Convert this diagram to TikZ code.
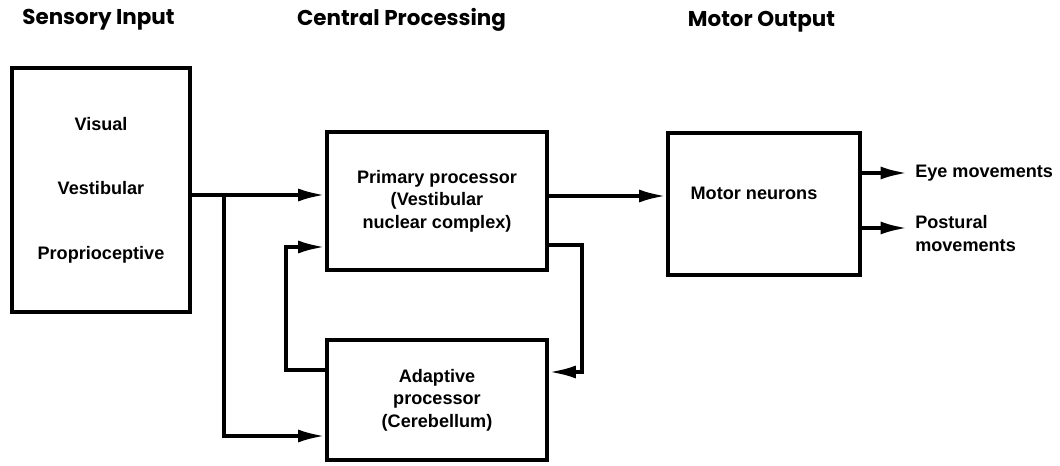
\documentclass[tikz,border=0pt]{standalone}
\usepackage{fontspec}
\setmainfont{Liberation Sans}
\newfontfamily\titulofont{Poppins}
\usetikzlibrary{arrows.meta}

\begin{document}
\begin{tikzpicture}[line width=0.75mm,
  caixa/.style={draw,rectangle,inner sep=0pt},
  texto/.style={font=\bfseries\fontsize{10.3pt}{12.8pt}\selectfont,align=center},
  titulo/.style={font=\titulofont\bfseries\fontsize{12.2pt}{12pt}\selectfont},
  seta/.style={-{Latex[length=5.4mm,width=2.6mm]}}]
  \useasboundingbox (0,0) rectangle (21.2,9.3);
  %titulos
  \node[titulo] (t1) at (1.97,8.9) {Sensory Input};
  \node[titulo] (t2) at (8.03,8.9) {Central Processing};
  \node[titulo] (t3) at (15.23,8.86) {Motor Output};

  %caixas
  \node[caixa,texto,minimum width=3.56cm,minimum height=4.88cm] (sens) at (2.02,5.5) {Visual\\[8.4mm]Vestibular\\[8.4mm]Proprioceptive};
  \node[caixa,texto,minimum width=4.4cm,minimum height=2.76cm] (prim) at (8.74,5.28) {Primary processor\\(Vestibular\\nuclear complex)};
  \node[caixa,texto,minimum width=4.4cm,minimum height=2.4cm] (adap) at (8.74,1.3) {Adaptive\\processor\\(Cerebellum)};
  \node[caixa,minimum width=3.84cm,minimum height=2.84cm,label={[texto,xshift=-2mm,yshift=2.2mm]center:Motor neurons}] (mot) at (15.28,5.22) {};

  %saidas
  \node[texto,anchor=west,align=left] (olho) at (18.15,5.84) {Eye movements};
  \node[texto,anchor=west,align=left] (post) at (18.15,4.63) {Postural\\movements};

  %entrada
  \coordinate (v1) at ([yshift=-1mm]sens.east);
  \coordinate (v2) at ([xshift=6.4mm]v1);
  \draw[seta] (v1) -- (v1 -| prim.west);
  \draw[seta] (v2) |- ([yshift=-7.2mm]adap.west);

  %realimentacao
  \coordinate (v3) at ([yshift=6mm]adap.west);
  \coordinate (v4) at ([yshift=-9.2mm]prim.west);
  \draw[seta] (v3) -- ++(-0.78,0) |- (v4);

  \coordinate (v5) at ([yshift=1mm]prim.east);
  \draw[seta] (v5) -- (v5 -| mot.west);
  \coordinate (v6) at ([yshift=-8.8mm]prim.east);
  \coordinate (v7) at ([yshift=5.6mm]adap.east);
  \draw[seta] (v6) -- ++(0.66,0) |- (v7);

  %movimentos
  \coordinate (v8) at ([yshift=6.2mm]mot.east);
  \draw[seta] (v8) -- (v8 -| olho.west);
  \coordinate (v9) at ([yshift=-4.8mm]mot.east);
  \draw[seta] (v9) -- (v9 -| post.west);

\end{tikzpicture}
\end{document}
